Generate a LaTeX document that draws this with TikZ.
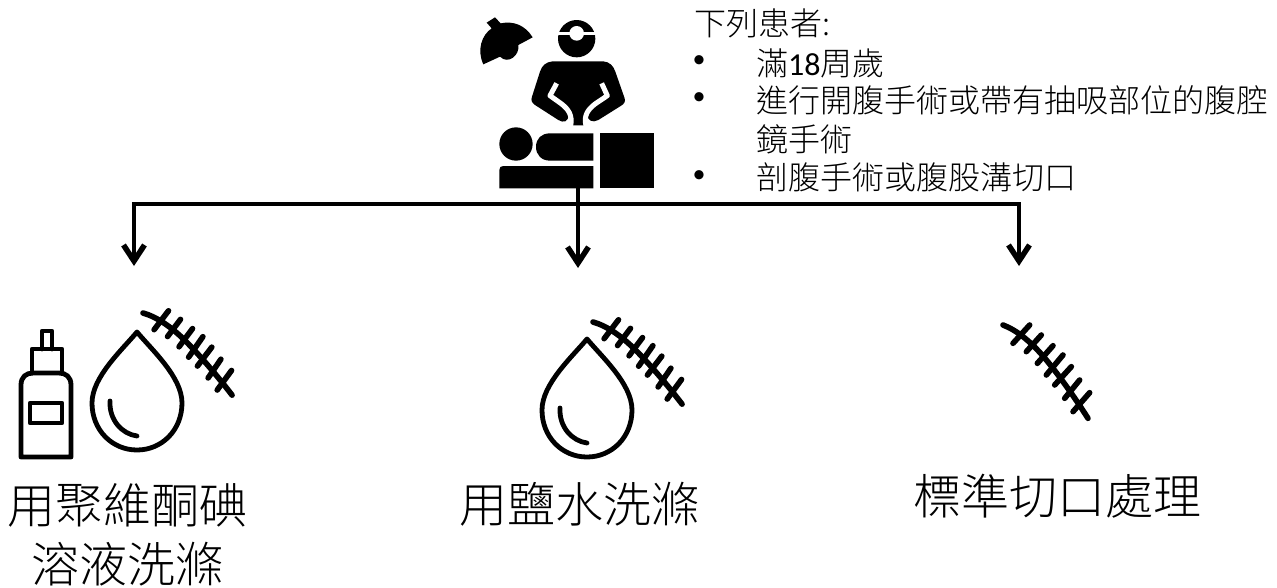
\documentclass[tikz,border=0pt]{standalone}
\usepackage{fontspec}
\setmainfont{Carlito}
\newfontfamily\cjk{Noto Sans CJK TC Light}
\usetikzlibrary{arrows.meta}
\tikzset{
  icon/.style={line width=4.8pt,line cap=round,line join=round,draw=black},
  conn/.style={line width=4.4pt,draw=black},
  arrowconn/.style={conn,-{Straight Barb[length=16pt,width=21pt,line width=5.5pt]}},
  biglabel/.style={inner sep=0pt,align=center,font=\fontsize{48}{58}\selectfont\cjk},
  listtext/.style={inner sep=0pt,anchor=west,font=\fontsize{32}{38}\selectfont\cjk},
  bullet/.style={inner sep=0pt,font=\fontsize{26}{30}\selectfont},
  pics/suture/.style={code={
    \begin{scope}[scale=1/3,line width=5.6pt,line cap=round,draw=black]
      \draw (0,0) .. controls (40,15) and (85,50) .. (130,105) .. controls (175,160) and (220,225) .. (255,280);
      \draw (30,55) -- (80,0);
      \draw (70,80) -- (115,30);
      \draw (103,115) -- (150,62);
      \draw (130,150) -- (180,90);
      \draw (155,180) -- (205,125);
      \draw (185,220) -- (230,165);
      \draw (210,260) -- (260,203);
    \end{scope}
  }},
  pics/drop/.style={code={
    \draw[icon] (0,0) .. controls (-15,18) and (-45,45) .. (-45,71)
      .. controls (-45,98) and (-25,118) .. (0,118)
      .. controls (25,118) and (45,98) .. (45,71)
      .. controls (45,45) and (15,18) .. (0,0) -- cycle;
    \draw[icon] (-27,69) .. controls (-28,88) and (-15,102) .. (0,104);
  }}
}
\begin{document}
\begin{tikzpicture}[x=1pt,y=-1pt]
\useasboundingbox (0,0) rectangle (1277,587);
% surgeon
\begin{scope}[shift={(460,0)},scale=1/3]
  \fill (80,68) -- (105,52) -- (122,70) .. controls (160,62) and (195,75) .. (218,112)
    -- (175,135) .. controls (180,165) and (145,195) .. (120,170) -- (70,193)
    .. controls (50,150) and (65,105) .. (95,85) -- cycle;
  \fill (350,116) circle (56);
  \fill[white] (350,100) circle (22);
  \draw[white,line width=2.6pt] (290,100) -- (410,100);
  \fill (278,184) -- (430,184) .. controls (450,186) and (460,198) .. (466,215)
    -- (494,295) .. controls (497,306) and (492,312) .. (482,318)
    -- (415,360) .. controls (398,370) and (380,360) .. (384,345)
    -- (376,376) -- (330,376) -- (326,345) .. controls (325,365) and (310,370) .. (295,360)
    -- (225,315) .. controls (215,308) and (212,300) .. (216,290) -- (240,215)
    .. controls (246,196) and (258,186) .. (278,184) -- cycle;
  \draw[white,line width=5pt,line join=round] (290,250) -- (270,287) -- (305,312)
    .. controls (325,328) and (338,345) .. (332,378);
  \draw[white,line width=5pt,line join=round] (425,250) -- (442,287) -- (405,312)
    .. controls (385,328) and (370,345) .. (378,378);
  \fill (168,432) circle (50);
  \fill (400,400) -- (270,400) .. controls (245,400) and (228,415) .. (228,441)
    .. controls (228,465) and (245,482) .. (270,482) -- (400,482) -- cycle;
  \fill (118,565) -- (118,510) .. controls (118,502) and (122,498) .. (130,498) -- (400,498) -- (400,565) -- cycle;
  \fill (420,398) rectangle (582,565);
\end{scope}
% connectors
\coordinate (bar) at (578,188);
\coordinate (barL) at (134,204);
\coordinate (barR) at (1019,204);
\coordinate (tipL) at (134,266);
\coordinate (tipM) at (578,268);
\coordinate (tipR) at (1019,266);
\draw[conn] ([xshift=-2.2pt]barL) -- ([xshift=2.2pt]barR);
\draw[arrowconn] (barL) -- (tipL);
\draw[arrowconn] (bar) -- (tipM);
\draw[arrowconn] (barR) -- (tipR);
% icons
\begin{scope}[icon]
  \draw (21,385) .. controls (21,377) and (26,373) .. (33,373) -- (59,373) .. controls (66,373) and (71,377) .. (71,385) -- (71,457) -- (21,457) -- cycle;
  \draw (32,373) -- (32,349) -- (62,349) -- (62,373);
  \draw (42,349) -- (42,331) -- (52,331) -- (52,349);
  \draw (30,403) rectangle (62,423);
\end{scope}
\pic at (137,332) {drop};
\pic[rotate=5,scale=.96] at (143,313) {suture};
\pic at (587,339) {drop};
\pic[rotate=5,scale=.96] at (593,322) {suture};
\pic at (1003,325) {suture};
% labels
\node[biglabel] (a) at (127,505) {用聚維酮碘};
\node[biglabel] (a2) at (127,564) {溶液洗滌};
\node[biglabel] (b) at (579,504) {用鹽水洗滌};
\node[biglabel] (c) at (1057,496) {標準切口處理};
\node[listtext] (t0) at (694,23) {下列患者:};
\node[bullet] (b1) at (699,62) {•};
\node[listtext] (t1) at (756,63) {滿{\rmfamily 18}周歲};
\node[bullet] (b2) at (699,99) {•};
\node[listtext] (t2) at (756,100) {進行開腹手術或帶有抽吸部位的腹腔};
\node[listtext] (t3) at (756,139) {鏡手術};
\node[bullet] (b3) at (699,177) {•};
\node[listtext] (t4) at (756,177) {剖腹手術或腹股溝切口};
\end{tikzpicture}
\end{document}
